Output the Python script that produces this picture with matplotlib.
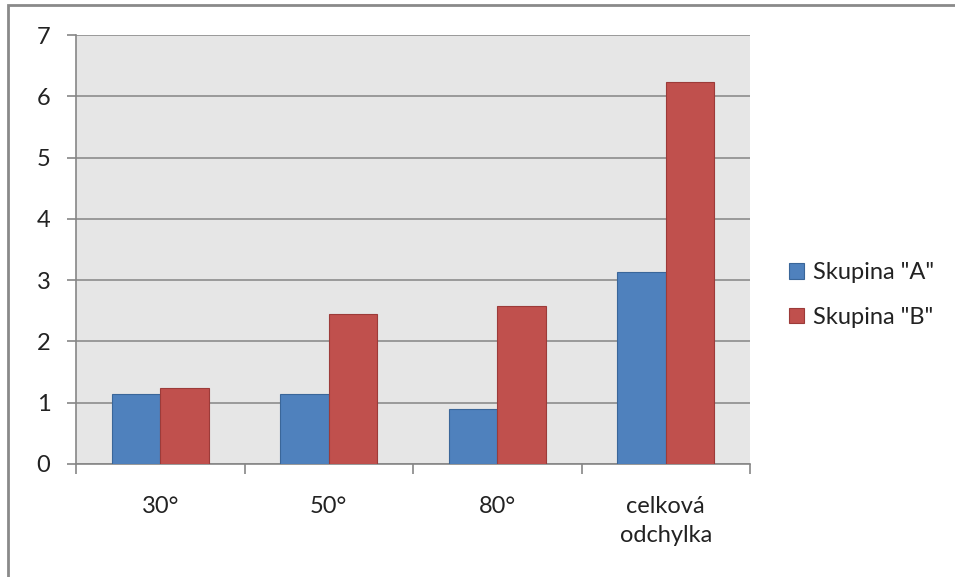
import numpy as np
import matplotlib.pyplot as plt
from matplotlib.patches import Rectangle

# Data
categories = ["30°", "50°", "80°", "celková\nodchylka"]
series_names = ['Skupina "A"', 'Skupina "B"']
group_a = [1.14, 1.14, 0.89, 3.14]
group_b = [1.24, 2.44, 2.57, 6.24]
y_ticks = [0, 1, 2, 3, 4, 5, 6, 7]

plt.rcParams['font.family'] = ['Lato', 'DejaVu Sans']
text_color = "#222222"
axis_gray = "#868686"
font_size = 17

fig = plt.figure(figsize=(9.55, 5.77), dpi=100)
fig.patch.set_facecolor("white")

# outer chart frame (only the top and left edges fall inside the image)
fig.add_artist(Rectangle((8 / 955, -0.05), 1.2, 1 - 5 / 577 + 0.05,
                         transform=fig.transFigure, fill=False,
                         edgecolor="#8a8a8a", linewidth=2.0))

ax = fig.add_axes([76 / 955, (577 - 464) / 577, (750 - 76) / 955, (464 - 35) / 577])
ax.set_facecolor("#e6e6e6")

x = np.arange(len(categories))
width = 0.288
ax.bar(x - width / 2, group_a, width, color="#4f81bd", edgecolor="#3a6699",
       linewidth=0.8, label=series_names[0], zorder=3)
ax.bar(x + width / 2, group_b, width, color="#c0504d", edgecolor="#9c3b39",
       linewidth=0.8, label=series_names[1], zorder=3)

ax.set_xlim(-0.5, len(categories) - 0.5)
ax.set_ylim(0, 7)
ax.set_yticks(y_ticks)
ax.set_yticklabels([str(t) for t in y_ticks])
ax.yaxis.grid(True, color="#8c8c8c", linewidth=1.2, zorder=1)

# category labels at bar group centres, tick marks at group boundaries
ax.set_xticks(x)
ax.set_xticklabels(categories, linespacing=1.5)
ax.set_xticks(np.arange(len(categories) + 1) - 0.5, minor=True)
ax.tick_params(axis="x", which="major", length=0, pad=23,
               labelsize=font_size, labelcolor=text_color)
ax.tick_params(axis="x", which="minor", length=7, width=1.2,
               color=axis_gray, direction="out")
ax.tick_params(axis="y", length=6.5, width=1.2, color=axis_gray,
               pad=12, labelsize=font_size, labelcolor=text_color)
for lbl in ax.get_xticklabels():
    lbl.set_verticalalignment("top")

for side in ("top", "right"):
    ax.spines[side].set_visible(False)
for side in ("left", "bottom"):
    ax.spines[side].set_color(axis_gray)
    ax.spines[side].set_linewidth(1.2)

fig.legend(loc="center left", bbox_to_anchor=(789 / 955, 1 - 295 / 577),
           frameon=False, fontsize=font_size, labelcolor=text_color,
           handlelength=0.65, handleheight=0.65, handletextpad=0.35,
           labelspacing=1.0, borderpad=0, borderaxespad=0)

fig.savefig("out.png", dpi=100)
